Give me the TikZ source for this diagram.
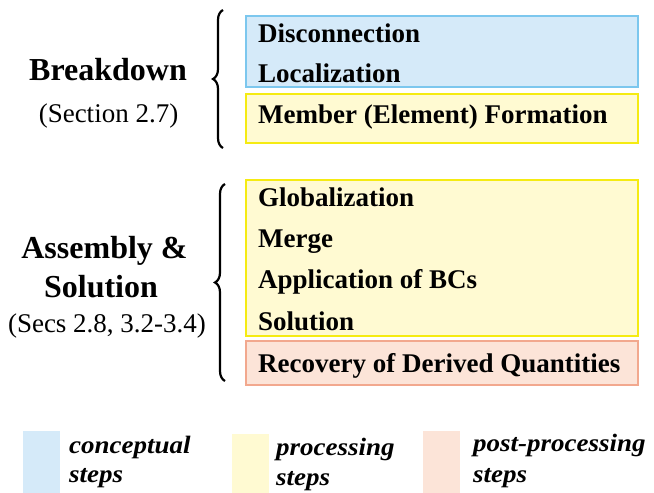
\documentclass[tikz,border=0pt]{standalone}
\usepackage{fontspec}
\setmainfont{Liberation Serif}
\newfontfamily\legfont[FakeStretch=1.08]{Liberation Serif}
\usetikzlibrary{decorations.pathreplacing}
\definecolor{cblue}{HTML}{D5EAF9}
\definecolor{cblueB}{HTML}{7CC7EE}
\definecolor{cyel}{HTML}{FFFAD2}
\definecolor{cyelB}{HTML}{F5EB12}
\definecolor{csal}{HTML}{FCE4D8}
\definecolor{csalB}{HTML}{F2A88E}
\tikzset{
  box/.style={line width=1.5pt},
  item/.style={anchor=base west, inner sep=0pt, font=\fontsize{27}{27}\selectfont\bfseries},
  head/.style={anchor=base, inner sep=0pt, font=\fontsize{32}{32}\selectfont\bfseries},
  sub/.style={anchor=base, inner sep=0pt, font=\fontsize{27}{27}\selectfont},
  leg/.style={anchor=base west, inner sep=0pt, font=\legfont\fontsize{25}{25}\selectfont\bfseries\itshape},
  brc/.style={decorate, decoration={brace, amplitude=10pt, mirror}, line width=2.2pt},
}
\begin{document}
\begin{tikzpicture}[x=1pt,y=-1pt]
\useasboundingbox (0,0) rectangle (654,493);
% boxes
\draw[box, fill=cblue, draw=cblueB] (246,16) rectangle (638,87);
\draw[box, fill=cyel, draw=cyelB] (246,94) rectangle (638,143);
\draw[box, fill=cyel, draw=cyelB] (246,180) rectangle (638,336);
\draw[box, fill=csal, draw=csalB] (246,341) rectangle (638,385);
% items
\node[item] (i1) at (258,42) {Disconnection};
\node[item] (i2) at (258,82) {Localization};
\node[item] (i3) at (258,123) {Member (Element) Formation};
\node[item] (i4) at (258,206) {Globalization};
\node[item] (i5) at (258,247) {Merge};
\node[item] (i6) at (258,288) {Application of BCs};
\node[item] (i7) at (258,330) {Solution};
\node[item] (i8) at (258,372) {Recovery of Derived Quantities};
% heads
\node[head] (h1) at (108,80) {Breakdown};
\node[sub] (s1) at (108.5,122) {(Section 2.7)};
\node[head] (h2) at (104.5,258) {Assembly \&};
\node[head] (h3) at (101,297) {Solution};
\node[sub] (s2) at (107,332) {(Secs 2.8, 3.2-3.4)};
% braces
\coordinate (b1t) at (223,10);
\coordinate (b1b) at (223,148);
\coordinate (b2t) at (225,184);
\coordinate (b2b) at (225,381);
\draw[brc] (b1t) -- (b1b);
\draw[brc] (b2t) -- (b2b);
% legend
\fill[cblue] (23,431) rectangle (60,493);
\fill[cyel] (232,434) rectangle (269,493);
\fill[csal] (423,431) rectangle (460,493);
\node[leg] (l1) at (69,453) {conceptual};
\node[leg] (l1b) at (69,482) {steps};
\node[leg] (l2) at (276,455) {processing};
\node[leg] (l2b) at (276,485) {steps};
\node[leg] (l3) at (473,451) {post-processing};
\node[leg] (l3b) at (473,482) {steps};
\end{tikzpicture}
\end{document}
